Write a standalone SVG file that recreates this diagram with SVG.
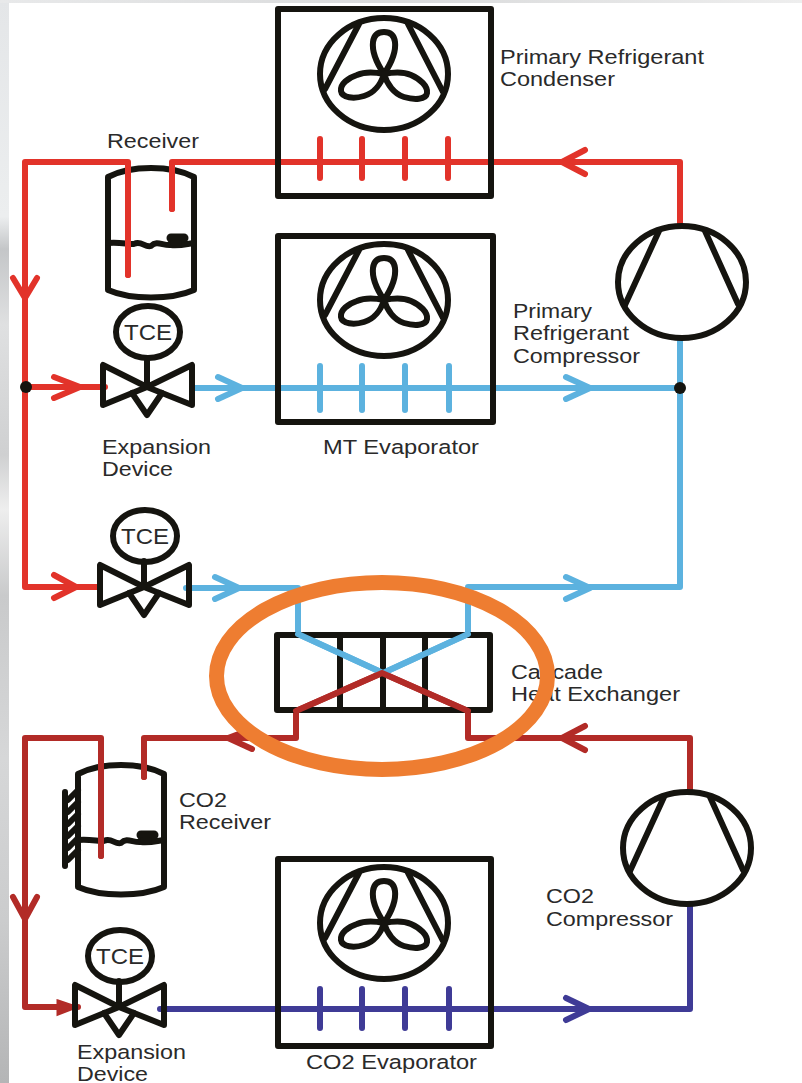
<svg xmlns="http://www.w3.org/2000/svg" width="802" height="1083" viewBox="0 0 802 1083">
<style>
.k{fill:none;stroke:#15140f;stroke-width:6;stroke-linejoin:round;stroke-linecap:round}
.t{font-family:"Liberation Sans",Arial,sans-serif;font-size:20.5px;fill:#2a2a2a}
.c{font-size:22px;text-anchor:middle}
.p{fill:none;stroke-width:6;stroke-linejoin:round;stroke-linecap:round}
.r{stroke:#e2332a}.b{stroke:#5cb2df}.d{stroke:#b22b27}.v{stroke:#3f3b96}
</style>
<defs>
<linearGradient id="bg" x1="0" y1="0" x2="0" y2="1">
<stop offset="0" stop-color="#e4e6e8"/><stop offset=".2" stop-color="#eceeef"/><stop offset=".23" stop-color="#c4c6c8"/><stop offset=".3" stop-color="#dfe0e1"/><stop offset=".42" stop-color="#cfd0d1"/><stop offset=".47" stop-color="#eeeeee"/><stop offset=".55" stop-color="#c9cacb"/><stop offset=".7" stop-color="#d6d7d8"/><stop offset=".85" stop-color="#cbcccd"/><stop offset="1" stop-color="#b4b5b6"/>
</linearGradient>
<linearGradient id="tg" x1="0" y1="0" x2="1" y2="0">
<stop offset="0" stop-color="#e8e9ea"/><stop offset=".5" stop-color="#d9dadb"/><stop offset="1" stop-color="#eeeeee"/>
</linearGradient>
<g id="fan" class="k">
<ellipse cx="0" cy="0" rx="64" ry="56"/>
<path d="M-59 15L-25-50M24-50L59 18"/>
<path d="M0 0C-8-12-12-24-11-32C-10-40-5-42 0-42C5-42 10-40 11-32C12-24 8-12 0 0Z"/>
<path d="M0 0C-10-2-20-2-27 1C-36 4-44 10-43 17C-42 24-30 25-20 22C-10 19-3 10 0 0Z"/>
<path d="M0 0C10-2 20-2 27 1C36 5 44 12 43 19C42 26 30 26 20 23C10 20 3 10 0 0Z"/>
</g>
<g id="comp" class="k">
<ellipse cx="0" cy="0" rx="64" ry="56"/>
<path d="M-57 23L-23-51M23-51L56 22"/>
</g>
<g id="valve" class="k">
<path d="M0 0L-44-22V18ZM0 0L45-22V18Z"/>
<path d="M-15 6L0 28L15 6"/>
<path d="M0 0V-26"/>
</g>
<g id="tank" class="k">
<path d="M-43-50C-20-62 20-62 43-50V63C20 73-20 73-43 63Z"/>
<path d="M-43 16C-32 15-24 17-17 17C-10 13-6 21 0 19C6 13 12 19 20 18C28 19 36 17 43 16"/>
<path d="M20 11H33" stroke-width="9"/>
<path d="M22 16H28" stroke-width="6"/>
</g>
</defs>
<rect width="802" height="1083" fill="#fff"/>
<rect width="9" height="1083" fill="url(#bg)"/>
<rect width="802" height="3" fill="url(#tg)"/>

<g id="connectors">
<path class="p r" d="M680 225V162H172V209M128 275V162H25V587H100M25 387H105"/>
<path class="p r" d="M562 162L585 150M562 162L585 174M13 278L25 298L37 278M54 377L80 387L54 398M54 575L76 587L54 598"/>
<path class="p b" d="M192 388H680M680 341V587H468V634L383 673L298 634V588H186"/>
<path class="p b" d="M218 377L242 388L218 399M566 377L590 388L566 399M215 577L239 588L215 599M566 577L590 588L566 599"/>
<path class="p d" d="M101 856V738H25V1007H78M144 777V738H296V711L382 673L468 711V738H690V790"/>
<path class="p d" d="M252 749L228 738L252 729M585 726L562 738L585 750M13 897L25 919L37 897"/>
<path d="M58 1001L76 1007L58 1014Z" fill="#b22b27" stroke="#b22b27" stroke-width="3"/>
<path class="p v" d="M690 905V1009H160"/>
<path class="p v" d="M566 998L589 1009L566 1020"/>
<circle cx="26" cy="387" r="6" fill="#15140f"/>
<circle cx="680" cy="388" r="6" fill="#15140f"/>
</g>

<g id="condenser">
<rect class="k" x="278" y="9" width="213" height="187"/>
<use href="#fan" x="384" y="74"/>
<path class="p r" d="M320 139V178M362 139V178M405 139V178M448 139V178"/>
<text class="t" x="500" y="64" textLength="204" lengthAdjust="spacingAndGlyphs">Primary Refrigerant</text>
<text class="t" x="500" y="86" textLength="115" lengthAdjust="spacingAndGlyphs">Condenser</text>
</g>
<g id="mt-evaporator">
<rect class="k" x="278" y="236" width="215" height="186"/>
<use href="#fan" x="384" y="300"/>
<path class="p b" d="M320 366V410M362 366V410M405 366V410M449 366V410"/>
<text class="t" x="323" y="454" textLength="156" lengthAdjust="spacingAndGlyphs">MT Evaporator</text>
</g>
<g id="receiver">
<use href="#tank" x="151" y="227"/>
<path class="p r" d="M172 164V209M128 164V275"/>
<text class="t" x="107" y="148" textLength="92" lengthAdjust="spacingAndGlyphs">Receiver</text>
</g>
<g id="primary-compressor">
<use href="#comp" x="682" y="282"/>
<text class="t" x="513" y="318" textLength="79" lengthAdjust="spacingAndGlyphs">Primary</text>
<text class="t" x="513" y="340" textLength="116" lengthAdjust="spacingAndGlyphs">Refrigerant</text>
<text class="t" x="513" y="363" textLength="127" lengthAdjust="spacingAndGlyphs">Compressor</text>
</g>
<g id="expansion-1">
<use href="#valve" x="147" y="387"/>
<ellipse class="k" cx="148" cy="332" rx="32" ry="26"/>
<text class="t c" x="148" y="340" textLength="48" lengthAdjust="spacingAndGlyphs">TCE</text>
<text class="t" x="102" y="454" textLength="109" lengthAdjust="spacingAndGlyphs">Expansion</text>
<text class="t" x="102" y="476" textLength="71" lengthAdjust="spacingAndGlyphs">Device</text>
</g>
<g id="expansion-2">
<use href="#valve" x="144" y="587"/>
<ellipse class="k" cx="145" cy="536" rx="32" ry="26"/>
<text class="t c" x="145" y="544" textLength="48" lengthAdjust="spacingAndGlyphs">TCE</text>
</g>
<g id="cascade-hx">
<rect class="k" x="277" y="635" width="213" height="75"/>
<path class="k" d="M340 635V710M383 635V710M425 635V710"/>
<path class="p b" d="M298 634L383 673L468 634"/>
<path class="p d" d="M296 711L382 673L468 711"/>
<text class="t" x="511" y="679" textLength="92" lengthAdjust="spacingAndGlyphs">Cascade</text>
<text class="t" x="511" y="701" textLength="169" lengthAdjust="spacingAndGlyphs">Heat Exchanger</text>
</g>
<g id="co2-receiver">
<use href="#tank" x="121" y="824"/>
<path class="k" d="M65 792V866M68 800L78 790M68 812L78 802M68 824L78 814M68 836L78 826M68 848L78 838M68 860L78 850" stroke-width="5"/>
<path class="p d" d="M101 740V856M144 740V777"/>
<text class="t" x="179" y="807" textLength="48" lengthAdjust="spacingAndGlyphs">CO2</text>
<text class="t" x="179" y="829" textLength="92" lengthAdjust="spacingAndGlyphs">Receiver</text>
</g>
<g id="co2-compressor">
<use href="#comp" x="687" y="848"/>
<text class="t" x="546" y="903" textLength="48" lengthAdjust="spacingAndGlyphs">CO2</text>
<text class="t" x="546" y="926" textLength="127" lengthAdjust="spacingAndGlyphs">Compressor</text>
</g>
<g id="co2-evaporator">
<rect class="k" x="278" y="859" width="213" height="187"/>
<use href="#fan" x="384" y="923"/>
<path class="p v" d="M320 989V1028M362 989V1028M405 989V1028M449 989V1028"/>
<text class="t" x="306" y="1069" textLength="171" lengthAdjust="spacingAndGlyphs">CO2 Evaporator</text>
</g>
<g id="expansion-3">
<use href="#valve" x="119" y="1007"/>
<ellipse class="k" cx="120" cy="956" rx="32" ry="26"/>
<text class="t c" x="120" y="964" textLength="48" lengthAdjust="spacingAndGlyphs">TCE</text>
<text class="t" x="77" y="1059" textLength="109" lengthAdjust="spacingAndGlyphs">Expansion</text>
<text class="t" x="77" y="1081" textLength="71" lengthAdjust="spacingAndGlyphs">Device</text>
</g>
<ellipse id="highlight" cx="382" cy="676" rx="165.5" ry="93.5" fill="none" stroke="#ee7d31" stroke-width="15"/>
</svg>
